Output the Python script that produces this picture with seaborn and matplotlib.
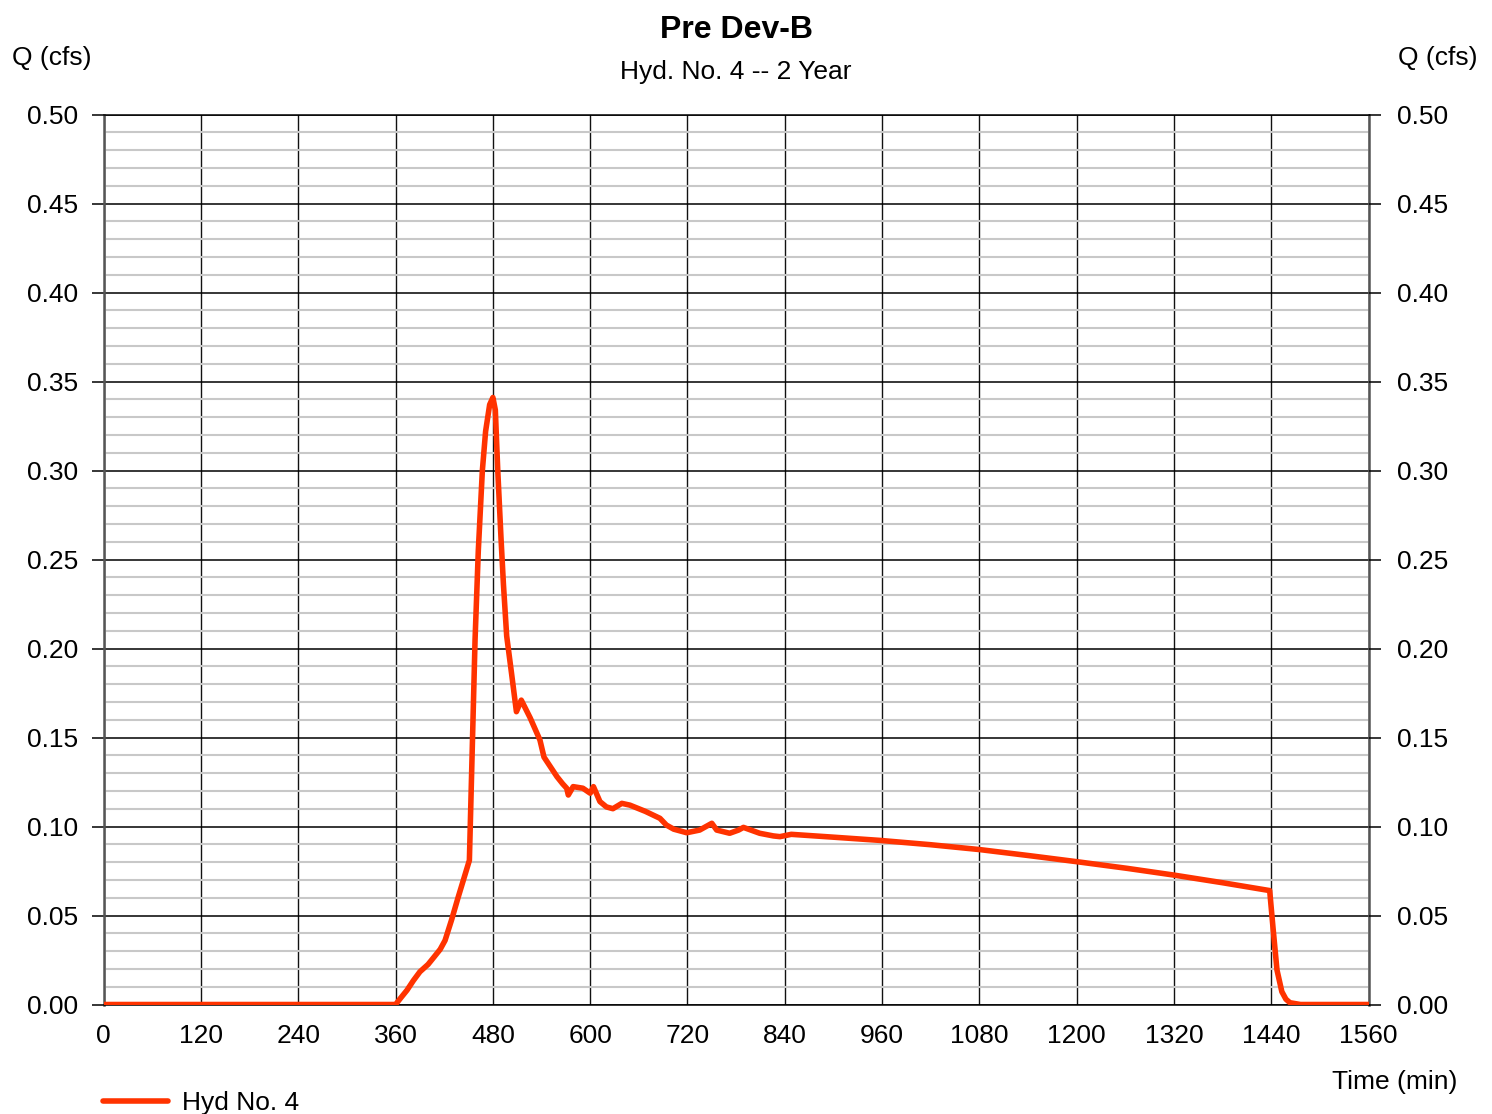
import matplotlib
matplotlib.use("Agg")
import matplotlib.pyplot as plt
from matplotlib.ticker import MultipleLocator
import seaborn as sns
import pandas as pd

# ---- data ----
time_min = [0, 360, 366, 374, 382, 390, 400, 408, 415, 421, 429, 437, 445, 451, 458, 462,
            467, 471, 476, 480, 483, 486, 490, 493, 497, 503, 509, 515, 526, 538, 543,
            551, 559, 566, 571, 573, 579, 591, 600, 604, 612, 620, 628, 639, 649, 668,
            686, 694, 703, 719, 735, 750, 756, 772, 783, 789, 809, 826, 834, 848, 900,
            957, 1019, 1081, 1142, 1204, 1262, 1320, 1380, 1438, 1442, 1447, 1453, 1458,
            1463, 1476, 1560]
q_cfs = [0, 0, 0.0035, 0.008, 0.0135, 0.0184, 0.0225, 0.027, 0.031, 0.036, 0.0475, 0.060,
         0.072, 0.081, 0.205, 0.255, 0.300, 0.322, 0.337, 0.341, 0.334, 0.300, 0.262,
         0.236, 0.207, 0.186, 0.1645, 0.171, 0.161, 0.1486, 0.139, 0.1335, 0.128, 0.124,
         0.1215, 0.1177, 0.1224, 0.1215, 0.1187, 0.1224, 0.114, 0.111, 0.110, 0.113,
         0.112, 0.1085, 0.1046, 0.1008, 0.0985, 0.0965, 0.098, 0.1018, 0.098, 0.0962,
         0.098, 0.0995, 0.0962, 0.0947, 0.0943, 0.0956, 0.094, 0.0922, 0.0898, 0.0870,
         0.0836, 0.0800, 0.0765, 0.0727, 0.0684, 0.0640, 0.0437, 0.0194, 0.0072, 0.003,
         0.001, 0, 0]
series_name = "Hyd No. 4"
x_ticks = [0, 120, 240, 360, 480, 600, 720, 840, 960, 1080, 1200, 1320, 1440, 1560]
y_ticks = [0.00, 0.05, 0.10, 0.15, 0.20, 0.25, 0.30, 0.35, 0.40, 0.45, 0.50]
title = "Pre Dev-B"
subtitle = "Hyd. No. 4 -- 2 Year"
y_label = "Q (cfs)"
x_label = "Time (min)"

df = pd.DataFrame({"Time": time_min, "Q": q_cfs})

sns.set_style("white")
plt.rcParams["font.family"] = ["Liberation Sans", "DejaVu Sans"]
plt.rcParams["text.color"] = "black"
plt.rcParams["xtick.color"] = "black"
plt.rcParams["ytick.color"] = "black"
plt.rcParams["axes.labelcolor"] = "black"

W, H = 1492, 1114
fig = plt.figure(figsize=(W / 100, H / 100), dpi=100)
L, R, T, B = 103.7, 1368.6, 114.5, 1004.5
ax = fig.add_axes([L / W, 1 - B / H, (R - L) / W, (B - T) / H])

LINE_COLOR = "#ff3300"
sns.lineplot(data=df, x="Time", y="Q", ax=ax, color=LINE_COLOR, linewidth=4.0,
             estimator=None, sort=False, label=series_name, zorder=5,
             solid_capstyle="round", solid_joinstyle="round")

ax.set_xlim(0, 1560)
ax.set_ylim(0, 0.5)
ax.set_xticks(x_ticks)
ax.set_xticklabels([str(v) for v in x_ticks])
ax.set_yticks(y_ticks)
ax.set_yticklabels([f"{v:.2f}" for v in y_ticks])
ax.yaxis.set_minor_locator(MultipleLocator(0.01))
ax.set_xlabel("")
ax.set_ylabel("")

# grid
ax.grid(False)
ax.set_axisbelow(True)
ax.yaxis.grid(True, which="minor", color="#c8c8c8", linewidth=1.5, zorder=0)
ax.yaxis.grid(True, which="major", color="black", linewidth=1.1, zorder=1)
ax.xaxis.grid(True, which="major", color="#111111", linewidth=1.0, zorder=1)

FS = 19
ax.tick_params(axis="y", which="major", direction="out", length=8.5, width=1.1,
               color="black", labelsize=FS, pad=10, left=True, labelcolor="black")
ax.tick_params(axis="y", which="minor", length=0)
ax.tick_params(axis="x", which="major", length=0, labelsize=FS, pad=14, labelcolor="black")

for side in ["left", "right"]:
    ax.spines[side].set_color("#555555")
    ax.spines[side].set_linewidth(1.8)
for side in ["top", "bottom"]:
    ax.spines[side].set_color("black")
    ax.spines[side].set_linewidth(1.1)

# right axis
ax2 = ax.twinx()
ax2.set_ylim(ax.get_ylim())
ax2.set_yticks(y_ticks)
ax2.set_yticklabels([f"{v:.2f}" for v in y_ticks])
ax2.tick_params(axis="y", direction="out", length=8.5, width=1.1, color="black",
                labelsize=FS, pad=12, labelcolor="black")
for s in ax2.spines.values():
    s.set_visible(False)

# legend
leg = ax.legend(loc="center left", bbox_to_anchor=(103 / W, 1 - 1103 / H),
                bbox_transform=fig.transFigure, frameon=False, fontsize=FS,
                handlelength=2.45, handletextpad=0.55, borderpad=0, borderaxespad=0)
for t in leg.get_texts():
    t.set_color("black")

# texts
cx = (L + R) / 2 / W
fig.text(cx, 1 - 29.5 / H, title, ha="center", va="center", fontsize=23, fontweight="bold")
fig.text(cx, 1 - 72.5 / H, subtitle, ha="center", va="center", fontsize=FS)
fig.text(12 / W, 1 - 57.5 / H, y_label, ha="left", va="center", fontsize=FS)
fig.text(1478 / W, 1 - 57.5 / H, y_label, ha="right", va="center", fontsize=FS)
fig.text(1457 / W, 1 - 1081.5 / H, x_label, ha="right", va="center", fontsize=FS)

fig.savefig("out.png", dpi=100, facecolor="white")
